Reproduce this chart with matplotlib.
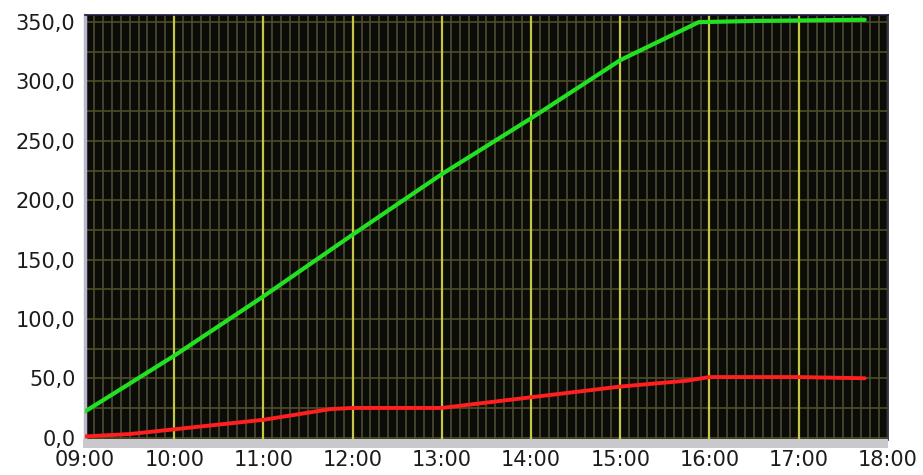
import matplotlib
matplotlib.use("Agg")
import matplotlib.pyplot as plt
from matplotlib.patches import Rectangle
import numpy as np

## data (hours as decimals)
green_t = [9.0, 10.0, 11.0, 12.0, 13.0, 14.0, 15.0, 15.88, 16.5, 17.74]
green_v = [22, 69, 119, 171, 222, 269, 318, 350, 351, 352]
red_t = [9.0, 9.5, 10.0, 11.0, 11.75, 12.0, 13.0, 14.0, 15.0, 15.75, 16.0, 17.0, 17.74]
red_v = [1, 3, 7, 15, 24, 25, 25, 34, 43, 48, 51, 51, 50]
hour_ticks = [9, 10, 11, 12, 13, 14, 15, 16, 17, 18]
hour_labels = ["09:00", "10:00", "11:00", "12:00", "13:00", "14:00", "15:00", "16:00", "17:00", "18:00"]
y_ticks = [0, 50, 100, 150, 200, 250, 300, 350]
y_labels = ["0,0", "50,0", "100,0", "150,0", "200,0", "250,0", "300,0", "350,0"]

plt.rcParams['font.family'] = ['DejaVu Sans']

fig = plt.figure(figsize=(9.23, 4.75), dpi=100)
fig.patch.set_facecolor("white")
ax = fig.add_axes([0.0921, 0.0737, 0.8699, 0.8947])
ax.set_facecolor("#0b0b08")

# grey band under the plot
fig.patches.append(Rectangle((0.0895, 0.057), 0.873, 0.018, transform=fig.transFigure,
                             facecolor="#c9c9cd", edgecolor="none", zorder=0))

# grid
for t in np.arange(9, 18.001, 0.1):
    if abs(t - round(t)) < 1e-6:
        continue
    ax.axvline(t, color="#4b4b33", lw=1.2, zorder=1)
for v in np.arange(0, 356, 25):
    ax.axhline(v, color="#4e4e26", lw=1.2, zorder=1)
for t in hour_ticks:
    ax.axvline(t, color="#c6c646", lw=1.6, zorder=2)
ax.axhline(-1.7, color="#d6d650", lw=2.0, zorder=2)

ax.plot(green_t, green_v, color="#22e022", lw=3.0, solid_capstyle="round", zorder=4)
ax.plot(red_t, red_v, color="#ff1f1f", lw=2.8, solid_capstyle="round", zorder=4)

ax.set_xlim(9, 18)
ax.set_ylim(-2, 356)
ax.set_xticks(hour_ticks)
ax.set_xticklabels(hour_labels)
ax.set_yticks(y_ticks)
ax.set_yticklabels(y_labels)
ax.tick_params(axis="both", length=0, labelsize=15, colors="#1c1c1c")
ax.tick_params(axis="x", pad=7)
ax.tick_params(axis="y", pad=7)

for s in ["top", "right"]:
    ax.spines[s].set_color("#1a1a40")
    ax.spines[s].set_linewidth(1.2)
ax.spines["left"].set_color("#b8b8cc")
ax.spines["left"].set_linewidth(2.5)
ax.spines["bottom"].set_visible(False)

plt.savefig("out.png", dpi=100)
